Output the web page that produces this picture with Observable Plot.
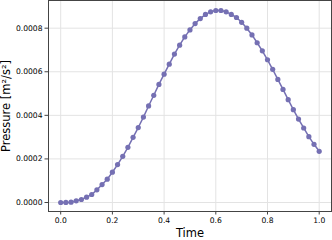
<!DOCTYPE html>
<html><head><meta charset="utf-8">
<script src="https://cdn.jsdelivr.net/npm/d3@7"></script>
<script src="https://cdn.jsdelivr.net/npm/@observablehq/plot@0.6"></script>
<style>html,body{margin:0;padding:0;background:#fff} svg{display:block}</style>
</head><body><div id="chart"></div>
<script>
const time = [0,0.02,0.04,0.06,0.08,0.10,0.12,0.14,0.16,0.18,0.20,0.22,0.24,0.26,0.28,0.30,0.32,0.34,0.36,0.38,0.40,0.42,0.44,0.46,0.48,0.50,0.52,0.54,0.56,0.58,0.60,0.62,0.64,0.66,0.68,0.70,0.72,0.74,0.76,0.78,0.80,0.82,0.84,0.86,0.88,0.90,0.92,0.94,0.96,0.98,1.00];
const pressure = [0,0.0000003,0.0000015,0.0000076,0.0000137,0.0000244,0.0000366,0.000058,0.0000824,0.000107,0.000139,0.000174,0.000212,0.000253,0.000299,0.000344,0.000392,0.000443,0.000492,0.000542,0.000589,0.000635,0.000681,0.000722,0.000760,0.000792,0.000821,0.000844,0.000863,0.000875,0.000881,0.000881,0.000875,0.000863,0.000849,0.000827,0.000800,0.000769,0.000733,0.000696,0.000655,0.000611,0.000565,0.000519,0.000472,0.000426,0.000383,0.000342,0.000302,0.000267,0.000235];
const xTicks = [0,0.2,0.4,0.6,0.8,1.0];
const yTicks = [0,0.0002,0.0004,0.0006,0.0008];
const xLabel = "Time";
const yLabel = "Pressure [m²/s²]";
const data = time.map((t,i)=>({t, p: pressure[i]}));
const purple = "#7570b3";
const chart = Plot.plot({
  width:332, height:240, marginLeft:48, marginRight:1, marginTop:0, marginBottom:29,
  style:{fontFamily:"DejaVu Sans", fontSize:"7.6px", background:"#fff", color:"#000"},
  x:{domain:[-0.0472,1.0476]},
  y:{domain:[-0.0000413,0.000927]},
  marks:[
    Plot.gridX(xTicks,{stroke:"#e3e3e3", strokeOpacity:1, strokeWidth:1}),
    Plot.gridY(yTicks,{stroke:"#e3e3e3", strokeOpacity:1, strokeWidth:1}),
    Plot.line(data,{x:"t", y:"p", stroke:purple, strokeWidth:1.5}),
    Plot.dot(data,{x:"t", y:"p", fill:purple, r:2.6, stroke:"none"}),
    Plot.frame({stroke:"#444", strokeWidth:1}),
    Plot.axisX(xTicks,{tickFormat:d=>d.toFixed(1), tickSize:3.5, tickPadding:2.5, stroke:"#444", fill:"#000", label:null}),
    Plot.axisY(yTicks,{tickFormat:d=>d.toFixed(4), tickSize:3.5, tickPadding:2.5, stroke:"#444", fill:"#000", label:null}),
    Plot.text([xLabel],{frameAnchor:"bottom", dy:21.5, textAnchor:"middle", lineAnchor:"middle", fontSize:11.5, fill:"#000"}),
    Plot.text([yLabel],{frameAnchor:"left", rotate:-90, dx:-42.5, textAnchor:"middle", lineAnchor:"middle", fontSize:11.5, fill:"#000"})
  ]
});
document.getElementById("chart").append(chart);
</script>
</body></html>
